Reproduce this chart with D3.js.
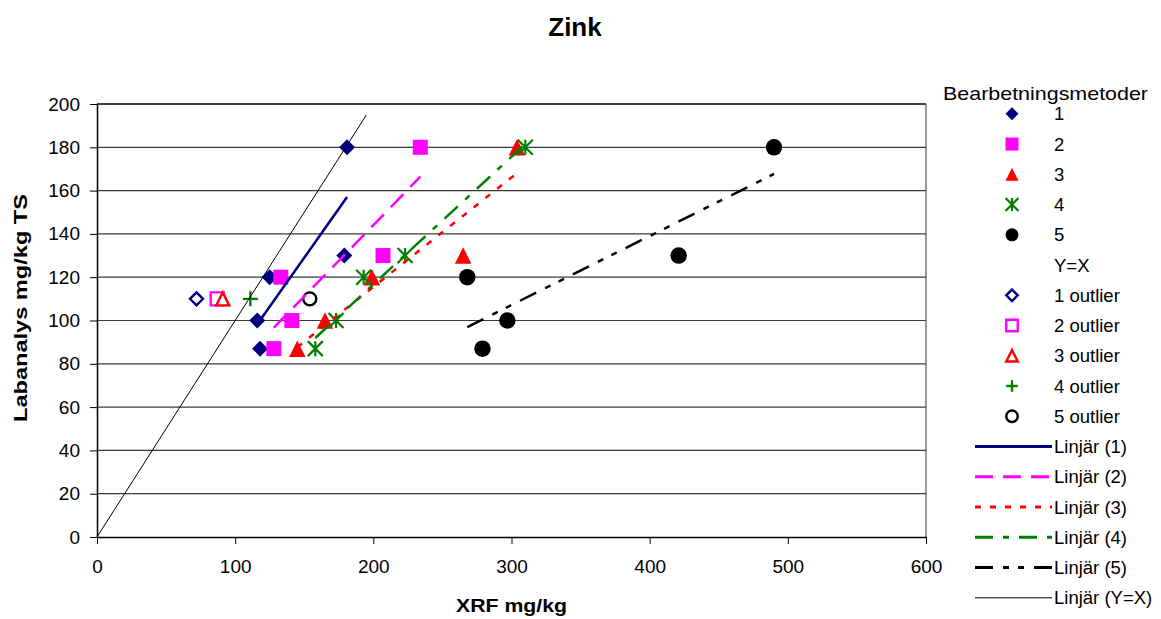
<!DOCTYPE html>
<html>
<head>
<meta charset="utf-8">
<script src="https://cdn.jsdelivr.net/npm/d3@7"></script>
<style>
  body { margin: 0; background: #fff; }
  svg { font-family: "Liberation Sans", Arial, sans-serif; }
  .axis path, .axis line { stroke: #000; }
  .axis text { font-size: 19px; fill: #000; font-family: "Liberation Sans", Arial, sans-serif; }
</style>
</head>
<body>
<div id="chart"></div>
<script>
/*------ Values ------*/

var methodNames = ["1", "2", "3", "4", "5"];

// lab value for the five samples (same for every method)
var labY = [180, 130, 120, 100, 87];

// XRF value per method
var method1X = [181, 179, 125, 116, 118];
var method2X = [234, 207, 133, 141, 128];
var method3X = [304, 265, 199, 165, 145];
var method4X = [310, 223, 193, 173, 158];
var method5X = [490, 421, 268, 297, 279];

// the outlier sample, one point per method
var outlierX = [72, 87, 91, 111, 154];
var outlierY = [110, 110, 110, 110, 110];

// Y=X helper series
var yxPoints = [0, 195];

var xTicks = [0, 100, 200, 300, 400, 500, 600];
var yTicks = [0, 20, 40, 60, 80, 100, 120, 140, 160, 180, 200];

/*------ Styles ------*/

var colors = ["#000080", "#ff00ff", "#ff0000", "#008000", "#000000"];
var dashes = [null, "18,10", "6,9", "18,10,6,10", "18,10,6,9,6,10"];

var width = 1161, height = 619;
var margin = {left: 97, right: 235, top: 104, bottom: 82};

var svg = d3.select("#chart")
    .append("svg")
    .attr("width", width)
    .attr("height", height);

var x = d3.scaleLinear().domain([0, 600]).range([margin.left, width - margin.right]);
var y = d3.scaleLinear().domain([0, 200]).range([height - margin.bottom, margin.top]);

/*------ Excel-like marker shapes ------*/

var symDiamond = { draw: function(ctx, size) { var r = Math.sqrt(size) / 2;
  ctx.moveTo(0, -r); ctx.lineTo(r, 0); ctx.lineTo(0, r); ctx.lineTo(-r, 0); ctx.closePath(); } };
var symSquare = { draw: function(ctx, size) { var r = Math.sqrt(size) / 2;
  ctx.rect(-r, -r, 2 * r, 2 * r); } };
var symTriangle = { draw: function(ctx, size) { var r = Math.sqrt(size) / 2;
  ctx.moveTo(0, -r); ctx.lineTo(r, r); ctx.lineTo(-r, r); ctx.closePath(); } };
var symStar = { draw: function(ctx, size) { var r = Math.sqrt(size) / 2;
  ctx.moveTo(-r, -r); ctx.lineTo(r, r); ctx.moveTo(r, -r); ctx.lineTo(-r, r);
  ctx.moveTo(0, -r); ctx.lineTo(0, r); } };
var symPlus = { draw: function(ctx, size) { var r = Math.sqrt(size) / 2;
  ctx.moveTo(-r, 0); ctx.lineTo(r, 0); ctx.moveTo(0, -r); ctx.lineTo(0, r); } };
var symCircle = { draw: function(ctx, size) { var r = Math.sqrt(size) / 2;
  ctx.moveTo(r, 0); ctx.arc(0, 0, r, 0, 2 * Math.PI); } };

var filledSymbols = [symDiamond, symSquare, symTriangle, symStar, symCircle];
var outlierSymbols = [symDiamond, symSquare, symTriangle, symPlus, symCircle];
var lineOnly = [false, false, false, true, false];

function drawMarker(sel, i, outlier, s) {
  var sym = outlier ? outlierSymbols[i] : filledSymbols[i];
  var p = sel.append("path").attr("d", d3.symbol().type(sym).size(s * s));
  if (outlier || lineOnly[i]) {
    p.attr("fill", outlier && i != 3 ? "#fff" : "none")
     .attr("stroke", colors[i]).attr("stroke-width", outlier ? 2.4 : 2.2);
  } else {
    p.attr("fill", colors[i]);
  }
  return p;
}

/*------ Grid and axes ------*/

svg.append("g")
  .selectAll("line")
  .data(yTicks.slice(1, -1))
  .enter()
  .append("line")
    .attr("x1", x(0)).attr("x2", x(600))
    .attr("y1", function(d) { return y(d); })
    .attr("y2", function(d) { return y(d); })
    .attr("stroke", "#3a3a3a")
    .attr("stroke-width", 1.2);

// plot area border top / right
svg.append("line").attr("x1", x(0)).attr("x2", x(600)).attr("y1", y(200)).attr("y2", y(200))
  .attr("stroke", "#000").attr("stroke-width", 1.5);
svg.append("line").attr("x1", x(600)).attr("x2", x(600)).attr("y1", y(200)).attr("y2", y(0))
  .attr("stroke", "#555").attr("stroke-width", 1.2);

svg.append("g")
  .attr("class", "axis")
  .attr("transform", "translate(0," + y(0) + ")")
  .call(d3.axisBottom(x).tickValues(xTicks).tickSize(7).tickPadding(16).tickSizeOuter(0))
  .call(function(g) { g.select(".domain").attr("stroke-width", 1.5); });

svg.append("g")
  .attr("class", "axis")
  .attr("transform", "translate(" + x(0) + ",0)")
  .call(d3.axisLeft(y).tickValues(yTicks).tickSize(7).tickPadding(10).tickSizeOuter(0))
  .call(function(g) { g.select(".domain").attr("stroke-width", 1.5); });

/*------ Titles ------*/

svg.append("text")
  .attr("x", 575).attr("y", 36)
  .attr("text-anchor", "middle")
  .style("font-size", "26px").style("font-weight", "bold")
  .text("Zink");

svg.append("text")
  .attr("x", (x(0) + x(600)) / 2).attr("y", 612)
  .attr("text-anchor", "middle")
  .attr("textLength", 111).attr("lengthAdjust", "spacingAndGlyphs")
  .style("font-size", "19px").style("font-weight", "bold")
  .text("XRF mg/kg");

svg.append("text")
  .attr("transform", "translate(27,308) rotate(-90)")
  .attr("text-anchor", "middle")
  .attr("textLength", 228).attr("lengthAdjust", "spacingAndGlyphs")
  .style("font-size", "19px").style("font-weight", "bold")
  .text("Labanalys mg/kg TS");

/*------ Points ------*/

var methodsX = [method1X, method2X, method3X, method4X, method5X];
var pointSize = [16, 15, 16.5, 15, 16.5];

methodsX.forEach(function(xs, i) {
  xs.forEach(function(v, k) {
    var g = svg.append("g").attr("transform", "translate(" + x(v) + "," + y(labY[k]) + ")");
    drawMarker(g, i, false, pointSize[i]);
  });
});

outlierX.forEach(function(v, i) {
  var g = svg.append("g").attr("transform", "translate(" + x(v) + "," + y(outlierY[i]) + ")");
  drawMarker(g, i, true, i == 3 ? 15 : 13);
});

/*------ Linear trend lines (least squares, like Excel) ------*/

function fit(xs, ys) {
  var mx = d3.mean(xs), my = d3.mean(ys);
  var sxy = d3.sum(xs, function(v, k) { return (v - mx) * (ys[k] - my); });
  var sxx = d3.sum(xs, function(v) { return (v - mx) * (v - mx); });
  var b = sxy / sxx;
  return function(v) { return my + b * (v - mx); };
}

var line = d3.line()
  .x(function(d) { return x(d[0]); })
  .y(function(d) { return y(d[1]); });

svg.append("path")
  .attr("d", line(yxPoints.map(function(v) { return [v, v]; })))
  .attr("fill", "none").attr("stroke", "#000").attr("stroke-width", 1);

methodsX.forEach(function(xs, i) {
  var f = fit(xs, labY);
  var ext = d3.extent(xs);
  svg.append("path")
    .attr("d", line(ext.map(function(v) { return [v, f(v)]; })))
    .attr("fill", "none")
    .attr("stroke", colors[i])
    .attr("stroke-width", 2.5)
    .attr("stroke-dasharray", dashes[i]);
});

/*------ Legend ------*/

var legend = svg.append("g").attr("class", "legend");

legend.append("text")
  .attr("x", 943).attr("y", 100)
  .attr("textLength", 205).attr("lengthAdjust", "spacingAndGlyphs")
  .style("font-size", "18.5px")
  .text("Bearbetningsmetoder");

var rowY = function(k) { return 113.8 + 30.25 * k; };
var rows = [];
methodNames.forEach(function(n, i) { rows.push({label: n, kind: "point", i: i}); });
rows.push({label: "Y=X", kind: "none"});
methodNames.forEach(function(n, i) { rows.push({label: n + " outlier", kind: "outlier", i: i}); });
methodNames.forEach(function(n, i) { rows.push({label: "Linjär (" + n + ")", kind: "line", i: i}); });
rows.push({label: "Linjär (Y=X)", kind: "yx"});

rows.forEach(function(r, k) {
  var cy = rowY(k);
  if (r.kind == "point" || r.kind == "outlier") {
    var g = legend.append("g").attr("transform", "translate(1012," + cy + ")");
    drawMarker(g, r.i, r.kind == "outlier", r.kind == "outlier" ? 11.5 : 13);
  } else if (r.kind == "line") {
    legend.append("line")
      .attr("x1", 975).attr("x2", 1052).attr("y1", cy).attr("y2", cy)
      .attr("stroke", colors[r.i]).attr("stroke-width", 3)
      .attr("stroke-dasharray", dashes[r.i]);
  } else if (r.kind == "yx") {
    legend.append("line")
      .attr("x1", 975).attr("x2", 1052).attr("y1", cy).attr("y2", cy)
      .attr("stroke", "#000").attr("stroke-width", 1);
  }
  legend.append("text")
    .attr("x", 1054).attr("y", cy)
    .attr("dy", "0.36em")
    .style("font-size", "18.5px")
    .text(r.label);
});
</script>
</body>
</html>
